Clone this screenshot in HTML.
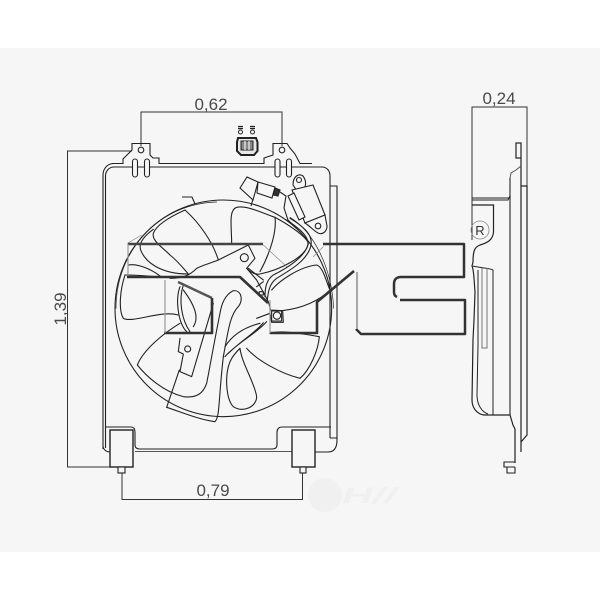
<!DOCTYPE html>
<html><head><meta charset="utf-8"><style>
html,body{margin:0;padding:0;background:#fff;width:600px;height:600px;overflow:hidden}
svg{display:block}
text{font-family:"Liberation Sans",sans-serif;fill:#4a4a4a}
</style></head><body>
<svg width="600" height="600" viewBox="0 0 600 600" xmlns="http://www.w3.org/2000/svg">
<rect width="600" height="600" fill="#fff"/>
<rect y="48" width="600" height="504" fill="#f6f6f6"/>

<g style="filter:blur(.3px)">
<!-- watermark -->
<circle cx="325" cy="495" r="17" fill="#f0f0f0"/>
<text x="342" y="503" font-size="22" font-style="italic" font-weight="bold" textLength="54" lengthAdjust="spacingAndGlyphs" style="fill:#f0f0f0">H//</text>

<!-- dimensions -->
<g fill="none" stroke="#333" stroke-width="1">
<path d="M141 146V112H282V146"/>
<path d="M132 151H67.500V467H110"/>
<path d="M122 473V499.500H302.500V473"/>
<path d="M472 240V107H527V187"/>
</g>
<text x="211" y="110" font-size="17" text-anchor="middle">0,62</text>
<text x="213" y="496" font-size="17" text-anchor="middle">0,79</text>
<text x="499" y="104" font-size="17" text-anchor="middle">0,24</text>
<text transform="translate(66,309) rotate(-90)" font-size="17" text-anchor="middle">1,39</text>

<!-- frame -->
<g fill="none" stroke="#222" stroke-width="1.100">
<path d="M112 163.500H123V159L132 150V143.500H150V155L153 158H159V163.500H264V158L273 155V143.500H287L290 148L295 154L300 163.500H312"/>
<path d="M103 449V175C103 169 107 164 113 163.500"/>
<path d="M105.500 448V176C105.500 171 109 167 114 167H322C327 167 330 171 330 176V186"/>
<path d="M330 186H337V440C337 448 334 452 328 452H315"/>
<path d="M330 186V438M330 438H337"/>
<path d="M103 446C103 449 106 452 110 452M106 427H131C134 427 135 429 135 432V445C135 448 137 449 140 449H272C275 449 277 448 277 445V432C277 429 279 427 282 427H331"/>
<path d="M135 451.500H292" stroke="#555"/>
<rect x="110" y="430" width="23" height="37" stroke-width="1.400" fill="#f6f6f6"/>
<rect x="292" y="430" width="23" height="37" stroke-width="1.400" fill="#f6f6f6"/>
<rect x="118" y="467" width="7" height="6" fill="#f6f6f6"/>
<rect x="300" y="467" width="6" height="6" fill="#f6f6f6"/>
<rect x="132.500" y="159" width="5" height="18" rx="2.500" fill="#f6f6f6"/>
<rect x="144.500" y="159" width="5" height="18" rx="2.500" fill="#f6f6f6"/>
<rect x="275" y="159" width="5" height="18" rx="2.500" fill="#f6f6f6"/>
<rect x="286.500" y="159" width="5" height="18" rx="2.500" fill="#f6f6f6"/>
<circle cx="141" cy="150" r="2.800"/>
<circle cx="282" cy="150" r="2.800"/>
</g>

<!-- small connector -->
<g fill="none" stroke="#222">
<path d="M238 138H256L257.500 142V151L254 155H241L237 151V142Z" fill="#e8e8e8" stroke="#222" stroke-width="2"/>
<path d="M241 141H253V150H241Z" fill="#888" stroke="#222"/>
<path d="M245 141V150M249 141V150" stroke="#eee" stroke-width="1.200"/>
<circle cx="240.500" cy="132" r="2"/>
<circle cx="252.500" cy="132" r="2"/>
<path d="M238 126.500H243M238 128.500H243M250 126.500H255M250 128.500H255" stroke-width="1.300"/>
</g>

<!-- sensor and relay -->
<g fill="#f6f6f6" stroke="#222" stroke-width="1.100">
<path d="M240 188L247 177L258 182L253 200Z"/>
<path d="M258 182L275 187L272 198L257 193Z"/>
<path d="M275 188L280 190L278 196L273 195Z" fill="#333"/>
<path d="M280 192L286 196L284 208L288 220L296 228" fill="none"/>
<path d="M253 199L251 206" fill="none"/>
<path d="M293 185C293 176 299 173 303 176C306 180 306 184 305 187L297 191Z"/>
<circle cx="299" cy="180" r="2.500"/>
<path d="M292 190L313 185L325 215L305 223Z"/>
<path d="M288 196L294 193L305 217L299 220Z"/>
<path d="M305 223L325 215L327 226C327 232 322 235 318 233C314 231 311 227 305 223Z"/>
<circle cx="318" cy="226" r="2.800"/>
</g>
<path d="M182 197H192L195 204" fill="none" stroke="#222" stroke-width="1.100"/>

<!-- side view -->
<g fill="none" stroke="#222" stroke-width="1">
<rect x="516" y="143" width="5" height="15" stroke-width="1.200"/>
<path d="M521 158V445M521 186H527V435L521 442V452" stroke-width="1.200"/>
<path d="M521 166L516 170L511 173L510 178" stroke="#555"/>
<path d="M510 178V415" stroke="#666" stroke-width="1.600"/>
<path d="M472 198H510M472 200H508L510 196" stroke-width="1"/>
<path d="M472 205H493.500V232C493 240 487 243 480 245C475 247 473 250 473 262L472 266C474 270 474 280 475 292L474 320L473 340L472 400C472 408 477 414 484 415H510L513 425L515 429V463" stroke-width="1.200"/>
<path d="M473 266C480 268 490 268 493 270V415M478 270V345L477 395C477 405 482 412 488 414"/>
<path d="M482 268V348H487V268" stroke="#777"/>
<path d="M515 462H504V467H515M507 467V473H515V467" stroke-width="1.100"/>
<circle cx="480" cy="230" r="9" stroke="#888" stroke-width=".8"/>
</g>
<text x="480" y="235" font-size="13" text-anchor="middle" style="fill:#333">R</text>

<!-- fan -->
<g transform="translate(100,200) scale(.3333)" fill="none" stroke="#222" stroke-width="3.300" stroke-linecap="round" stroke-linejoin="round">
<circle cx="370" cy="325" r="325"/>
<path d="M48 325C48 150 180 10 350 6M570 52C640 95 695 200 701 325" stroke-width="2"/>
<!-- blades -->
<path d="M255 30C215 48 170 72 160 100C155 122 185 140 210 165C235 185 250 205 265 222"/>
<path d="M255 30C300 70 340 130 355 180"/>
<path d="M160 88C130 110 115 130 122 150C135 185 180 222 265 222"/>
<path d="M395 130C395 80 385 30 410 22C440 15 490 40 525 52C530 90 515 150 480 215"/>
<path d="M525 52C560 70 620 110 625 130C620 170 540 210 480 222C465 225 450 215 440 205"/>
<path d="M515 270C540 240 600 200 650 195C670 200 680 250 690 270C660 300 610 325 545 332"/>
<path d="M440 445C470 480 540 520 600 535C630 510 655 450 658 410C600 400 540 390 510 400"/>
<path d="M420 445C425 490 465 550 470 590C470 620 430 640 400 620C380 600 375 540 385 500C390 480 400 465 420 445"/>
<path d="M240 370C190 400 130 450 112 495C140 530 190 575 250 590C290 595 310 580 320 550C330 500 340 440 360 340C365 310 375 285 400 272C425 270 430 300 415 320C390 345 385 390 370 470"/>
<path d="M75 225C60 270 55 330 70 355C100 370 180 330 235 345"/>
<path d="M75 225C120 225 170 230 190 232M85 195C110 190 150 205 180 228"/>
<!-- hub rings -->
<path d="M240 260C225 300 235 370 260 395M250 255C235 300 245 360 270 395"/>
<path d="M250 270C280 310 300 350 280 380"/>
<path d="M375 470C410 430 470 400 500 365M385 460C420 425 470 395 490 368M375 440C400 400 440 380 480 370"/>
<path d="M210 235C250 235 270 225 290 205C310 195 330 190 355 180"/>
<path d="M570 55C620 85 640 110 632 140C620 180 580 205 530 235C510 250 505 270 502 300M560 60C605 90 632 115 622 140C610 170 570 200 520 225C500 240 495 260 495 290"/>
<!-- bracket -->
<path d="M355 180L445 135L465 175L440 205L470 240L505 305L512 330L548 332L550 367L515 367L510 340L470 355"/>
<circle cx="433" cy="173" r="12"/>
<rect x="515" y="333" width="30" height="30"/>
<circle cx="531" cy="347" r="11"/>
<path d="M445 205L490 240M470 260L490 245M478 275H490V285H478Z"/>
<path d="M200 622C240 635 300 660 345 665C360 650 355 600 370 470"/>
<path d="M200 622L238 510"/>
<path d="M240 415L235 455L250 462L240 515L275 530L340 310"/>
<circle cx="263" cy="447" r="9"/>
<path d="M82 130L125 105" stroke="#888" stroke-width="2"/>
<path d="M490 135L560 200M670 140L640 170" stroke="#888" stroke-width="2"/>
</g>

<!-- TYC logo -->
<g fill="none" stroke="#444" stroke-width="2.400" stroke-linejoin="round">
<path d="M128 244H263"/>
<path d="M128 244V277" stroke="#999" stroke-width="1.200"/>
<path d="M127 277H240L268 303" stroke="#333" stroke-width="2.600"/>
<path d="M178 282L212 298" stroke="#555"/>
<path d="M212 298V333H164" stroke="#333" stroke-width="2.600"/>
<path d="M165 280V333" stroke="#999" stroke-width="1.200"/>
<path d="M270 333H317V302L354 271" stroke="#333" stroke-width="2.600"/>
<path d="M270 300V333" stroke="#999" stroke-width="1.200"/>
<path d="M323 244H464V277H401C396 277 394 280 394 284V292C394 295 395 296 397 297" stroke="#333" stroke-width="2.500"/>
<path d="M400 300H465V334H361L356 329" stroke="#333" stroke-width="2.500"/>
<path d="M357 272V329" stroke="#888" stroke-width="1.400"/>
</g>
</g>
</svg>
</body></html>
